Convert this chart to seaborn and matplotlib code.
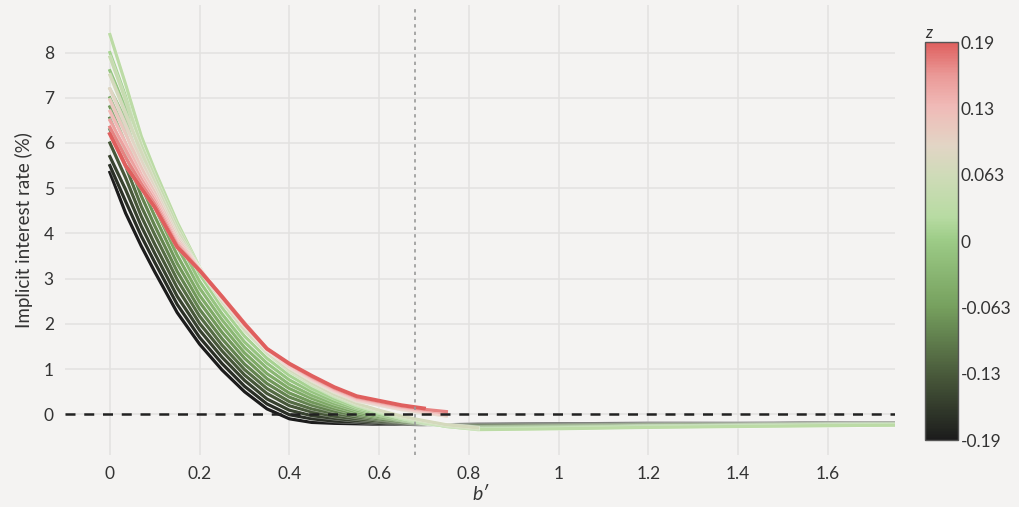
import pandas as pd
import matplotlib.pyplot as plt
import matplotlib.patheffects as pe
import seaborn as sns
from matplotlib.colors import LinearSegmentedColormap, Normalize
from matplotlib.cm import ScalarMappable

# b' grid shared by all curves (a curve may stop early)
b_grid = [0, 0.035, 0.07, 0.1, 0.15, 0.2, 0.25, 0.3, 0.35, 0.4, 0.45, 0.5, 0.55,
          0.6, 0.65, 0.7, 0.75, 0.82, 1.0, 1.2, 1.4, 1.6, 1.75]

z_values = [-0.19, -0.17, -0.15, -0.13, -0.11, -0.09, -0.07, -0.05, -0.03, -0.01,
            0.01, 0.03, 0.05, 0.07, 0.09, 0.11, 0.13, 0.15, 0.17, 0.19]

rate_m19 = [5.35, 4.45, 3.72, 3.15, 2.25, 1.55, 0.98, 0.50, 0.12, -0.10, -0.18, -0.20, -0.21,
            -0.22, -0.22, -0.23, -0.23, -0.22, -0.21, -0.20, -0.20, -0.19, -0.19]
rate_m17 = [5.50, 4.71, 3.94, 3.36, 2.43, 1.70, 1.12, 0.62, 0.23, -0.01, -0.10, -0.15, -0.17,
            -0.20, -0.21, -0.22, -0.23, -0.23, -0.22, -0.21, -0.21, -0.20, -0.20]
rate_m15 = [5.70, 4.97, 4.16, 3.56, 2.61, 1.86, 1.26, 0.75, 0.34, 0.09, -0.03, -0.09, -0.14,
            -0.17, -0.20, -0.22, -0.24, -0.24, -0.23, -0.22, -0.21, -0.20, -0.20]
rate_m13 = [6.00, 5.23, 4.38, 3.76, 2.80, 2.01, 1.40, 0.87, 0.46, 0.19, 0.05, -0.04, -0.10,
            -0.15, -0.18, -0.22, -0.24, -0.25, -0.24, -0.23, -0.22, -0.21, -0.20]
rate_m11 = [6.30, 5.49, 4.60, 3.97, 2.98, 2.17, 1.53, 0.99, 0.57, 0.28, 0.12, 0.02, -0.06,
            -0.12, -0.17, -0.21, -0.25, -0.26, -0.25, -0.23, -0.23, -0.21, -0.21]
rate_m09 = [6.55, 5.75, 4.83, 4.17, 3.16, 2.32, 1.67, 1.11, 0.68, 0.38, 0.20, 0.07, -0.02,
            -0.10, -0.16, -0.21, -0.25, -0.28, -0.26, -0.24, -0.23, -0.22, -0.21]
rate_m07 = [6.80, 6.00, 5.05, 4.38, 3.34, 2.48, 1.81, 1.24, 0.79, 0.47, 0.27, 0.13, 0.01,
            -0.07, -0.14, -0.20, -0.25, -0.29, -0.27, -0.25, -0.24, -0.22, -0.22]
rate_m05 = [7.00, 6.26, 5.27, 4.58, 3.52, 2.63, 1.95, 1.36, 0.90, 0.57, 0.35, 0.18, 0.05,
            -0.05, -0.13, -0.20, -0.26, -0.30, -0.28, -0.26, -0.25, -0.23, -0.22]
rate_m03 = [7.20, 6.52, 5.49, 4.79, 3.71, 2.79, 2.09, 1.48, 1.02, 0.66, 0.42, 0.24, 0.09,
            -0.02, -0.12, -0.19, -0.26, -0.31, -0.29, -0.27, -0.25, -0.23, -0.23]
rate_m01 = [7.60, 6.78, 5.71, 4.99, 3.89, 2.94, 2.22, 1.60, 1.13, 0.76, 0.50, 0.29, 0.13,
            0.00, -0.11, -0.19, -0.26, -0.32, -0.30, -0.27, -0.26, -0.24, -0.23]
rate_p01 = [8.00, 7.04, 5.93, 5.20, 4.07, 3.10, 2.36, 1.73, 1.24, 0.86, 0.57, 0.35, 0.16,
            0.03, -0.09, -0.19, -0.27, -0.33, -0.31, -0.28, -0.26, -0.25, -0.24]
rate_p03 = [8.40, 7.30, 6.15, 5.40, 4.25, 3.25, 2.50, 1.85, 1.35, 0.95, 0.65, 0.40, 0.20,
            0.05, -0.08, -0.18, -0.27, -0.34, -0.32, -0.29, -0.27, -0.25, -0.24]
rate_p05 = [7.90, 6.95, 5.95, 5.25, 4.15, 3.22, 2.48, 1.86, 1.36, 0.97, 0.67, 0.42, 0.22,
            0.07, -0.06, -0.16, -0.25, -0.32]
rate_p07 = [7.50, 6.65, 5.80, 5.12, 4.05, 3.20, 2.50, 1.88, 1.38, 0.99, 0.69, 0.44, 0.24,
            0.09, -0.04, -0.14, -0.23, -0.30]
rate_p09 = [7.20, 6.40, 5.60, 5.00, 3.95, 3.22, 2.55, 1.95, 1.42, 1.04, 0.75, 0.50, 0.30,
            0.20, 0.10, 0.03, -0.04]
rate_p11 = [6.95, 6.20, 5.45, 4.90, 3.88, 3.22, 2.57, 1.98, 1.43, 1.06, 0.77, 0.52, 0.32,
            0.22, 0.12, 0.05, -0.02]
rate_p13 = [6.70, 6.00, 5.30, 4.80, 3.82, 3.21, 2.60, 2.00, 1.44, 1.08, 0.79, 0.54, 0.34,
            0.24, 0.14, 0.07, 0.01]
rate_p15 = [6.50, 5.85, 5.20, 4.72, 3.78, 3.20, 2.61, 2.02, 1.45, 1.10, 0.81, 0.56, 0.36,
            0.26, 0.16, 0.09, 0.03]
rate_p17 = [6.35, 5.68, 5.10, 4.65, 3.74, 3.19, 2.61, 2.02, 1.45, 1.11, 0.83, 0.58, 0.38,
            0.28, 0.18, 0.11, 0.06]
rate_p19 = [6.20, 5.50, 5.00, 4.58, 3.70, 3.18, 2.60, 2.00, 1.45, 1.12, 0.85, 0.60, 0.40,
            0.30, 0.20, 0.13]

rates = [rate_m19, rate_m17, rate_m15, rate_m13, rate_m11, rate_m09, rate_m07, rate_m05,
         rate_m03, rate_m01, rate_p01, rate_p03, rate_p05, rate_p07, rate_p09, rate_p11,
         rate_p13, rate_p15, rate_p17, rate_p19]

cbar_ticks = [-0.19, -0.1267, -0.0633, 0, 0.0633, 0.1267, 0.19]
cbar_labels = ["-0.19", "-0.13", "-0.063", "0", "0.063", "0.13", "0.19"]
b_marker = 0.68

rows = []
for z, r in zip(z_values, rates):
    for b, v in zip(b_grid, r):
        rows.append({"b": b, "rate": v, "z": z})
df = pd.DataFrame(rows)

cmap = LinearSegmentedColormap.from_list("zmap", [
    (0.0, "#1c1c1c"), (0.16, "#48583a"), (0.334, "#76a05e"), (0.5, "#9ccb86"),
    (0.56, "#b7dba2"), (0.666, "#cfdbb8"), (0.74, "#e2d5c5"), (0.84, "#f0bab7"),
    (0.92, "#ea9896"), (1.0, "#df5f5e")])
norm = Normalize(vmin=-0.19, vmax=0.19)

bg = "#f4f3f2"
plt.rcParams["font.family"] = ["Lato", "DejaVu Sans"]
fig = plt.figure(figsize=(10.19, 5.07), dpi=100, facecolor=bg)
ax = fig.add_axes([0.0638, 0.1026, 0.8146, 0.8874], facecolor=bg)

sns.lineplot(data=df, x="b", y="rate", hue="z", palette=cmap, hue_norm=norm,
             estimator=None, sort=False, lw=2.3, legend=False, ax=ax)
for line in ax.get_lines():
    line.set_path_effects([pe.Stroke(linewidth=3.0, foreground="white", alpha=0.45), pe.Normal()])
ax.get_lines()[-1].set_linewidth(2.8)

ax.axhline(0, color="#222222", lw=1.8, ls=(0, (4, 3.5)), zorder=5)
ax.axvline(b_marker, color="#999999", lw=1.2, ls=(0, (2, 2.5)), zorder=5)

ax.set_xlim(-0.1, 1.75)
ax.set_ylim(-0.9, 9.05)
ax.set_xticks([0, 0.2, 0.4, 0.6, 0.8, 1, 1.2, 1.4, 1.6])
ax.set_xticklabels(["0", "0.2", "0.4", "0.6", "0.8", "1", "1.2", "1.4", "1.6"])
ax.set_yticks(range(0, 9))
ax.grid(color="#e3e2e0", lw=1.1)
ax.set_axisbelow(True)
for s in ax.spines.values():
    s.set_visible(False)
ax.tick_params(length=0, labelsize=12.5, labelcolor="#333333", pad=8)
ax.set_xlabel("b′", fontsize=14, style="italic", color="#333333", labelpad=3)
ax.set_ylabel("Implicit interest rate (%)", fontsize=13.5, color="#333333", labelpad=8)

cax = fig.add_axes([0.9078, 0.1321, 0.0324, 0.785])
cb = fig.colorbar(ScalarMappable(norm=norm, cmap=cmap), cax=cax)
cb.set_ticks(cbar_ticks)
cb.set_ticklabels(cbar_labels)
cb.outline.set_edgecolor("#555555")
cb.outline.set_linewidth(1)
cax.tick_params(length=0, labelsize=12.5, labelcolor="#333333", pad=2)
cax.set_title("z", fontsize=12, style="italic", color="#333333", loc="left", pad=3)

fig.savefig("out.png", dpi=100, facecolor=bg)
